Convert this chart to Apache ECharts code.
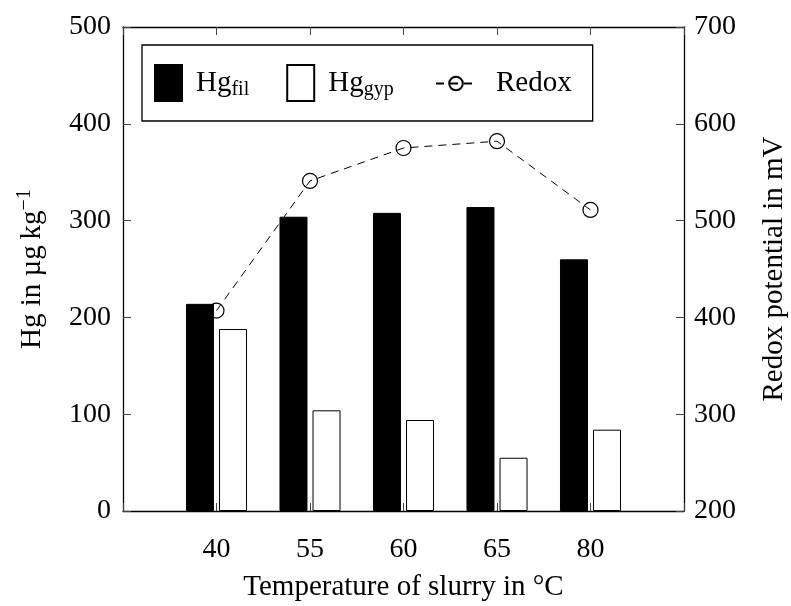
<!DOCTYPE html>
<html>
<head>
<meta charset="utf-8">
<script src="https://cdn.jsdelivr.net/npm/echarts@6/dist/echarts.min.js"></script>
<style>html,body{margin:0;padding:0;background:#fff}#c{width:791px;height:606px}</style>
</head>
<body>
<div id="c"></div>
<script>
const categories = ['40', '55', '60', '65', '80'];
const hgFil = [214, 304, 308, 314, 260];
const hgGyp = [188, 104, 94, 55, 84];
const redox = [407, 541, 575, 582, 511];
const leftTicks = { min: 0, max: 500, step: 100 };
const rightTicks = { min: 200, max: 700, step: 100 };

const FF = "'Liberation Serif', 'DejaVu Serif', serif";
const chart = echarts.init(document.getElementById('c'), null, { renderer: 'canvas' });
const axisLine = { show: true, onZero: false, lineStyle: { color: '#000', width: 1.3 } };
const tick = { show: true, inside: true, length: 8, lineStyle: { color: '#444', width: 1 } };
const rect = 'path://M0 0H27V36H0Z';

chart.setOption({
  animation: false,
  backgroundColor: '#fff',
  grid: { left: 123, right: 107, top: 27, bottom: 95, containLabel: false, outerBoundsMode: 'none' },
  legend: [
    {
      left: 142, top: 45,
      data: [{ name: 'Hgfil', icon: rect }, { name: 'Hggyp', icon: rect }],
      itemWidth: 27, itemHeight: 36, itemGap: 37,
      padding: [19, 199, 19, 12],
      borderColor: '#000', borderWidth: 1.3,
      selectedMode: false,
      formatter: n => n === 'Hgfil' ? '{b|Hg}{s|fil}' : '{b|Hg}{s|gyp}',
      textStyle: {
        fontFamily: FF, fontSize: 29, color: '#000',
        rich: {
          b: { fontFamily: FF, fontSize: 29, color: '#000', padding: [0, 0, 0, 9] },
          s: { fontFamily: FF, fontSize: 20, color: '#000', padding: [14, 0, 0, 0] }
        }
      }
    },
    {
      left: 435, top: 69,
      data: ['Redox'],
      itemWidth: 40, itemHeight: 17,
      padding: 0,
      selectedMode: false,
      formatter: '{r|Redox}',
      textStyle: {
        fontFamily: FF, fontSize: 29, color: '#000',
        rich: { r: { fontFamily: FF, fontSize: 29, color: '#000', padding: [0, 0, 0, 15] } }
      }
    }
  ],
  xAxis: [
    {
      type: 'value', position: 'bottom', min: -1, max: 5, interval: 1,
      axisLine, axisTick: tick, splitLine: { show: false },
      axisLabel: {
        fontFamily: FF, fontSize: 28, color: '#000', margin: 25,
        formatter: v => (categories[v] !== undefined ? categories[v] : '')
      },
      name: 'Temperature of slurry in °C', nameLocation: 'middle', nameGap: 62,
      nameTextStyle: { fontFamily: FF, fontSize: 29, color: '#000' }
    },
    {
      type: 'value', position: 'top', min: -1, max: 5, interval: 1,
      axisLine, axisTick: tick, splitLine: { show: false },
      axisLabel: { show: false }
    }
  ],
  yAxis: [
    {
      type: 'value', position: 'left', min: leftTicks.min, max: leftTicks.max, interval: leftTicks.step,
      axisLine, axisTick: tick, splitLine: { show: false },
      axisLabel: { fontFamily: FF, fontSize: 28, color: '#000', margin: 12 },
      name: 'Hg in µg\u2009kg{sup|−1}', nameLocation: 'middle', nameGap: 74,
      nameTextStyle: {
        fontFamily: FF, fontSize: 29, color: '#000',
        rich: { sup: { fontFamily: FF, fontSize: 20, color: '#000', padding: [0, 0, 14, 0] } }
      }
    },
    {
      type: 'value', position: 'right', min: rightTicks.min, max: rightTicks.max, interval: rightTicks.step,
      axisLine, axisTick: tick, splitLine: { show: false },
      axisLabel: { fontFamily: FF, fontSize: 28, color: '#000', margin: 10 },
      name: 'Redox potential in mV', nameLocation: 'middle', nameGap: 76,
      nameTextStyle: { fontFamily: FF, fontSize: 29, color: '#000' }
    }
  ],
  series: [
    {
      name: 'Hgfil', type: 'bar', xAxisIndex: 0, yAxisIndex: 0,
      barWidth: 28, barGap: '18%',
      itemStyle: { color: '#000', borderColor: '#000', borderWidth: 1 },
      data: hgFil.map((v, i) => [i, v])
    },
    {
      name: 'Hggyp', type: 'bar', xAxisIndex: 0, yAxisIndex: 0,
      barWidth: 28, barGap: '18%',
      itemStyle: { color: '#fff', borderColor: '#000', borderWidth: 1 },
      data: hgGyp.map((v, i) => [i, v])
    },
    {
      name: 'Redox', type: 'line', xAxisIndex: 0, yAxisIndex: 1,
      symbol: 'circle', symbolSize: 15, z: 5,
      lineStyle: { color: '#000', width: 1, type: [8, 6] },
      itemStyle: { color: 'transparent', borderColor: '#000', borderWidth: 1.2 },
      data: redox.map((v, i) => [i, v])
    }
  ]
});
</script>
</body>
</html>
